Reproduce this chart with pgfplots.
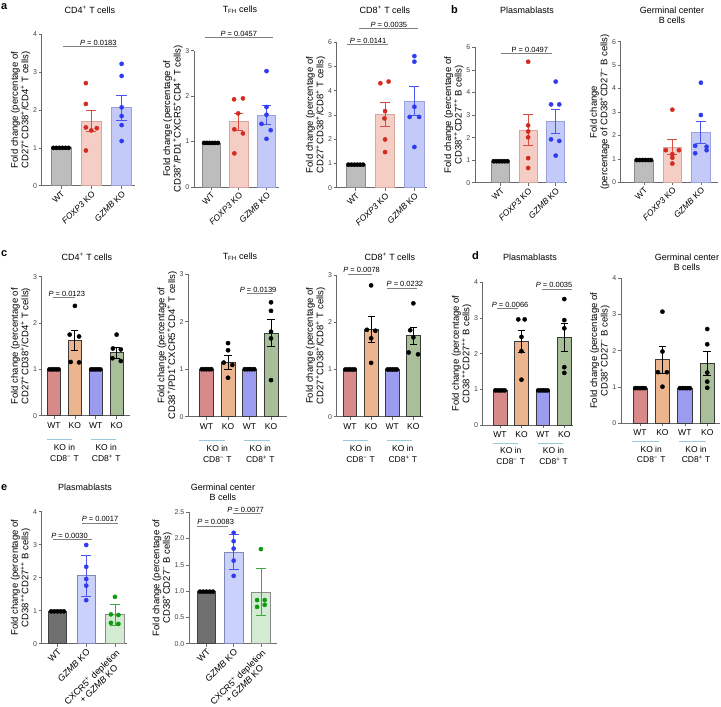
\documentclass[border=0pt]{standalone}
\usepackage{pgfplots}
\pgfplotsset{compat=1.18}
\usepackage{fontspec}
\setmainfont{Liberation Sans}
\definecolor{axc}{HTML}{6A6A6A}
\definecolor{tkc}{HTML}{444444}
\definecolor{brc}{HTML}{808080}
\definecolor{grpc}{HTML}{9CC8DC}
\definecolor{wtf}{HTML}{BDBDBD}
\definecolor{wtd}{HTML}{8A8A8A}
\definecolor{fxf}{HTML}{F4CDC5}
\definecolor{fxd}{HTML}{D8A69C}
\definecolor{gzf}{HTML}{C4CAF7}
\definecolor{gzd}{HTML}{9AA1DE}
\definecolor{rdc}{HTML}{D42A20}
\definecolor{blc}{HTML}{2F3BF0}
\definecolor{erd}{HTML}{DD4A40}
\definecolor{ebl}{HTML}{4A55F0}
\definecolor{cred}{HTML}{D88A8A}
\definecolor{cora}{HTML}{EDB58E}
\definecolor{cblu}{HTML}{9B9BF0}
\definecolor{cgrn}{HTML}{A9BF99}
\definecolor{cout}{HTML}{3A3A3A}
\definecolor{ewtf}{HTML}{707070}
\definecolor{ewtd}{HTML}{404040}
\definecolor{egzf}{HTML}{CAD1FA}
\definecolor{egzd}{HTML}{8088B8}
\definecolor{ecxf}{HTML}{D3EBD3}
\definecolor{ecxd}{HTML}{8A8A8A}
\definecolor{egrn}{HTML}{0E9A0E}
\definecolor{eegr}{HTML}{3AAA3A}
\newcommand{\sps}{\textsuperscript{+}}
\newcommand{\smn}{\textsuperscript{−}}
\newcommand{\pbar}[5]{\addplot[forget plot, ybar, bar shift=0pt, bar width=#5, fill=#3, draw=#4, line width=0.7pt] coordinates {(#1,#2)};}
% error bar: x, mean, err, colour, cap half-width (axis units)
\newcommand{\perr}[5]{%
 \pgfmathsetmacro{\ea}{#2-#3}\pgfmathsetmacro{\eb}{#2+#3}\pgfmathsetmacro{\xa}{#1-#5}\pgfmathsetmacro{\xb}{#1+#5}%
 \edef\tmp{\noexpand\addplot[forget plot, draw=#4, line width=0.8pt] coordinates {(#1,\ea)(#1,\eb)};%
 \noexpand\addplot[forget plot, draw=#4, line width=0.8pt] coordinates {(\xa,\eb)(\xb,\eb)};%
 \noexpand\addplot[forget plot, draw=#4, line width=0.8pt] coordinates {(\xa,\ea)(\xb,\ea)};}\tmp}
\newcommand{\pdots}[2]{\addplot[forget plot, only marks, mark=*, mark size=2.1pt, color=#1, mark options={draw=#1, fill=#1}] coordinates {#2};}
\newcommand{\pbr}[5]{\draw[brc, line width=0.6pt] (axis cs:#1,#3) -- (axis cs:#2,#3); \node[font=\fontsize{7.5}{8}\selectfont, anchor=south, inner sep=1pt] at (axis cs:#5,#3) {\textit{P} = #4};}
\newcommand{\grp}[6]{\draw[grpc, line width=0.8pt] ([yshift=-#4pt]axis cs:#1,0) -- ([yshift=-#4pt]axis cs:#2,0); \node[font=\fontsize{8.5}{10.5}\selectfont, align=center, anchor=north, inner sep=0pt] at ([yshift=-#5pt]axis cs:#3,0) {#6};}
\pgfplotsset{
  panel/.style={
    scale only axis, anchor=south west, clip=false,
    axis x line*=bottom, axis y line*=left,
    axis line style={draw=axc, line width=0.6pt},
    every tick/.style={draw=axc, line width=0.6pt},
    tick align=outside, major tick length=3pt,
    ymin=0,
    /pgf/number format/assume math mode=true,
    yticklabel style={font=\fontsize{7}{7}\selectfont, text=tkc, inner sep=1.5pt},
    xticklabel style={font=\fontsize{8.5}{9}\selectfont, text=black},
    ylabel style={font=\fontsize{9.5}{8.8}\selectfont, align=center, inner sep=1pt},
  },
  rot/.style={xtick={0,1,2}, xticklabel style={font=\fontsize{8.5}{8.5}\selectfont, rotate=45, anchor=north east, inner sep=1pt, align=center}},
  four/.style={xtick={0,1,2,3}, xticklabels={WT,KO,WT,KO}},
}
\newcommand{\ttl}[3]{\node[font=\fontsize{9}{10}\selectfont, align=center] at (#1pt,#2pt) {#3};}
\newcommand{\plet}[3]{\node[font=\bfseries\fontsize{11}{12}\selectfont, anchor=north west, inner sep=0pt] at (#1pt,#2pt) {#3};}
\begin{document}
\begin{tikzpicture}[x=1pt,y=1pt]
\path[use as bounding box] (0,0) rectangle (721,707);
% letters
\plet{1}{704}{a}
\plet{451}{702}{b}
\plet{1}{457}{c}
\plet{472}{456}{d}
\plet{1}{223}{e}
% titles
\ttl{90}{697}{CD4\sps{} T cells}
\ttl{240}{697}{T\textsubscript{FH} cells}
\ttl{385}{697}{CD8\sps{} T cells}
\ttl{527}{697}{Plasmablasts}
\ttl{672}{691.5}{Germinal center\\B cells}
\ttl{87}{450.3}{CD4\sps{} T cells}
\ttl{240}{450}{T\textsubscript{FH} cells}
\ttl{390}{450}{CD8\sps{} T cells}
\ttl{530}{450}{Plasmablasts}
\ttl{687}{445}{Germinal center\\B cells}
\ttl{85}{220}{Plasmablasts}
\ttl{223}{215}{Germinal center\\B cells}

% ---------- a1
\begin{axis}[panel, rot, at={(41.7pt,521.3pt)}, width=93.3pt, height=151.4pt, xmin=-0.636, xmax=2.44, ymax=4, ytick={0,1,2,3,4},
 xticklabels={WT,\textit{FOXP3} KO,\textit{GZMB} KO},
 ylabel={Fold change (percentage of\\CD27\sps CD38\sps/CD4\sps{} T cells)}]
\pbar{0}{1}{wtf}{wtd}{0.66}
\pbar{1}{1.71}{fxf}{fxd}{0.66}
\pbar{2}{2.06}{gzf}{gzd}{0.66}
\perr{1}{1.71}{0.27}{erd}{0.17}
\perr{2}{2.06}{0.33}{ebl}{0.17}
\pdots{black}{(-0.25,1)(-0.15,1)(-0.05,1)(0.05,1)(0.15,1)(0.25,1)}
\pdots{rdc}{(0.82,2.71)(0.82,2.16)(0.82,1.54)(1.18,1.52)(1.0,1.46)(0.82,0.93)}
\pdots{blc}{(2,3.22)(2,2.90)(2,2.07)(2,1.84)(2,1.60)(2,1.18)}
\pbr{0.05}{1.85}{3.67}{0.0183}{1.23}
\end{axis}
% ---------- a2
\begin{axis}[panel, rot, at={(194pt,520pt)}, width=85pt, height=136.3pt, xmin=-0.613, xmax=2.45, ymax=3, ytick={0,1,2,3},
 xticklabels={WT,\textit{FOXP3} KO,\textit{GZMB} KO},
 ylabel={Fold change (percentage of\\CD38\sps/PD1\sps CXCR5\sps CD4\sps{} T cells)}]
\pbar{0}{0.97}{wtf}{wtd}{0.66}
\pbar{1}{1.44}{fxf}{fxd}{0.66}
\pbar{2}{1.58}{gzf}{gzd}{0.66}
\perr{1}{1.44}{0.19}{erd}{0.17}
\perr{2}{1.58}{0.21}{ebl}{0.17}
\pdots{black}{(-0.25,0.97)(-0.15,0.97)(-0.05,0.97)(0.05,0.97)(0.15,0.97)(0.25,0.97)}
\pdots{rdc}{(0.83,1.93)(1.15,1.95)(0.98,1.62)(0.84,1.27)(1.15,1.18)(0.84,0.74)}
\pdots{blc}{(2,2.55)(2,1.76)(2,1.59)(1.82,1.39)(2.15,1.25)(2,1.06)}
\pbr{-0.22}{2.23}{3.29}{0.0457}{1.0}
\end{axis}
% ---------- a3
\begin{axis}[panel, rot, at={(336.7pt,519.3pt)}, width=90pt, height=145.4pt, xmin=-0.65, xmax=2.42, ymax=6, ytick={0,1,2,3,4,5,6},
 xticklabels={WT,\textit{FOXP3} KO,\textit{GZMB} KO},
 ylabel={Fold change (percentage of\\CD27\sps CD38\sps/CD8\sps{} T cells)}]
\pbar{0}{0.95}{wtf}{wtd}{0.66}
\pbar{1}{3.02}{fxf}{fxd}{0.66}
\pbar{2}{3.58}{gzf}{gzd}{0.66}
\perr{1}{3.02}{0.48}{erd}{0.17}
\perr{2}{3.58}{0.61}{ebl}{0.17}
\pdots{black}{(-0.25,0.95)(-0.15,0.95)(-0.05,0.95)(0.05,0.95)(0.15,0.95)(0.25,0.95)}
\pdots{rdc}{(0.84,4.31)(1.12,4.38)(1.0,3.16)(0.98,2.86)(1.0,1.99)(1.0,1.47)}
\pdots{blc}{(2,5.43)(2,5.20)(2,3.34)(1.84,2.92)(2.16,2.92)(2,1.68)}
\pbr{-0.3}{1.1}{5.91}{0.0141}{0.42}
\pbr{0.11}{2.12}{6.56}{0.0035}{1.13}
\end{axis}
% ---------- b1
\begin{axis}[panel, rot, at={(475pt,524.3pt)}, width=92pt, height=135.4pt, xmin=-0.93, xmax=2.41, ymax=6, ytick={0,1,2,3,4,5,6},
 xticklabels={WT,\textit{FOXP3} KO,\textit{GZMB} KO},
 ylabel={Fold change (percentage of\\CD38\textsuperscript{++}CD27\textsuperscript{++} B cells)}]
\pbar{0}{0.95}{wtf}{wtd}{0.66}
\pbar{1}{2.33}{fxf}{fxd}{0.66}
\pbar{2}{2.72}{gzf}{gzd}{0.66}
\perr{1}{2.33}{0.68}{erd}{0.17}
\perr{2}{2.72}{0.53}{ebl}{0.17}
\pdots{black}{(-0.25,0.95)(-0.15,0.95)(-0.05,0.95)(0.05,0.95)(0.15,0.95)(0.25,0.95)}
\pdots{rdc}{(1,5.36)(1,2.54)(1,2.27)(1,2.01)(1,1.09)(1,0.65)}
\pdots{blc}{(2,4.48)(1.83,3.47)(2.13,3.47)(1.83,1.92)(2.13,1.85)(2,1.20)}
\node[font=\fontsize{7.5}{8}\selectfont, anchor=south, inner sep=1pt] at (axis cs:1.06,5.73) {P = 0.0497};
\draw[brc, line width=0.6pt] (axis cs:0.03,5.73) -- (axis cs:1.85,5.73);
\end{axis}
% ---------- b2
\begin{axis}[panel, rot, at={(620.7pt,524.7pt)}, width=97.3pt, height=140.6pt, xmin=-0.81, xmax=2.6, ymax=6, ytick={0,1,2,3,4,5,6},
 xticklabels={WT,\textit{FOXP3} KO,\textit{GZMB} KO},
 ylabel={Fold change\\(percentage of CD38\sps CD27\smn{} B cells)}]
\pbar{0}{0.95}{wtf}{wtd}{0.66}
\pbar{1}{1.50}{fxf}{fxd}{0.66}
\pbar{2}{2.13}{gzf}{gzd}{0.66}
\perr{1}{1.50}{0.33}{erd}{0.17}
\perr{2}{2.13}{0.48}{ebl}{0.17}
\pdots{black}{(-0.25,0.95)(-0.15,0.95)(-0.05,0.95)(0.05,0.95)(0.15,0.95)(0.25,0.95)}
\pdots{rdc}{(1,3.10)(0.77,1.37)(1.23,1.37)(1.0,1.20)(1.0,1.05)(1,0.80)}
\pdots{blc}{(2,4.25)(2,2.87)(1.8,1.56)(2.2,1.52)(2.2,1.37)(1.8,1.24)}
\end{axis}

% ---------- c1
\begin{axis}[panel, four, at={(41.7pt,291.3pt)}, width=88.3pt, height=139pt, xmin=-0.59, xmax=3.64, ymax=3, ytick={0,1,2,3},
 ylabel={Fold change (percentage of\\CD27\sps CD38\sps/CD4\sps{} T cells)}]
\pbar{0}{1}{cred}{cout}{0.64}
\pbar{1}{1.62}{cora}{cout}{0.64}
\pbar{2}{1}{cblu}{cout}{0.64}
\pbar{3}{1.36}{cgrn}{cout}{0.64}
\perr{1}{1.62}{0.22}{black}{0.17}
\perr{3}{1.36}{0.12}{black}{0.17}
\pdots{black}{(-0.22,1)(-0.11,1)(0,1)(0.11,1)(0.22,1)}
\pdots{black}{(1.78,1)(1.89,1)(2,1)(2.11,1)(2.22,1)}
\pdots{black}{(1,2.37)(0.75,1.75)(1.2,1.71)(0.8,1.16)(1.2,1.15)}
\pdots{black}{(3,1.75)(2.82,1.45)(3.2,1.43)(2.8,1.24)(3.2,1.18)}
\pbr{-0.05}{1.0}{2.55}{0.0123}{0.61}
\grp{-0.35}{0.85}{0.5}{23.5}{28.5}{KO in\\CD8\smn{} T}
\grp{1.75}{2.95}{2.5}{23.5}{28.5}{KO in\\CD8\sps{} T}
\end{axis}
% ---------- c2
\begin{axis}[panel, four, at={(188.3pt,290.3pt)}, width=98.4pt, height=142.4pt, xmin=-0.85, xmax=3.73, ymax=3, ytick={0,1,2,3},
 ylabel={Fold change (percentage of\\CD38\sps/PD1\sps CXCR5\sps CD4\sps{} T cells)}]
\pbar{0}{1}{cred}{cout}{0.64}
\pbar{1}{1.14}{cora}{cout}{0.64}
\pbar{2}{1}{cblu}{cout}{0.64}
\pbar{3}{1.76}{cgrn}{cout}{0.64}
\perr{1}{1.14}{0.15}{black}{0.17}
\perr{3}{1.76}{0.28}{black}{0.17}
\pdots{black}{(-0.22,1)(-0.11,1)(0,1)(0.11,1)(0.22,1)}
\pdots{black}{(1.78,1)(1.89,1)(2,1)(2.11,1)(2.22,1)}
\pdots{black}{(1,1.55)(1,1.40)(0.8,1.14)(1.2,1.09)(1,0.82)}
\pdots{black}{(3,2.41)(3,2.23)(3,1.79)(3,1.65)(3,0.77)}
\pbr{1.88}{3.09}{2.60}{0.0139}{2.4}
\grp{-0.35}{0.85}{0.5}{23.5}{28.5}{KO in\\CD8\smn{} T}
\grp{1.75}{2.95}{2.5}{23.5}{28.5}{KO in\\CD8\sps{} T}
\end{axis}
% ---------- c3
\begin{axis}[panel, four, at={(336.7pt,290.3pt)}, width=86.6pt, height=141.7pt, xmin=-0.63, xmax=3.47, ymax=3, ytick={0,1,2,3},
 ylabel={Fold change (percentage of\\CD27\sps CD38\sps/CD8\sps{} T cells)}]
\pbar{0}{1}{cred}{cout}{0.64}
\pbar{1}{1.85}{cora}{cout}{0.64}
\pbar{2}{1}{cblu}{cout}{0.64}
\pbar{3}{1.72}{cgrn}{cout}{0.64}
\perr{1}{1.85}{0.27}{black}{0.17}
\perr{3}{1.72}{0.18}{black}{0.17}
\pdots{black}{(-0.22,1)(-0.11,1)(0,1)(0.11,1)(0.22,1)}
\pdots{black}{(1.78,1)(1.89,1)(2,1)(2.11,1)(2.22,1)}
\pdots{black}{(1,2.78)(0.8,1.84)(1.2,1.82)(1,1.66)(1,1.14)}
\pdots{black}{(3,2.40)(2.85,1.83)(3,1.68)(2.78,1.36)(3.22,1.32)}
\pbr{-0.1}{1.04}{3.02}{0.0078}{0.55}
\pbr{1.73}{3.16}{2.72}{0.0232}{2.6}
\grp{-0.35}{0.85}{0.5}{23.5}{28.5}{KO in\\CD8\smn{} T}
\grp{1.75}{2.95}{2.5}{23.5}{28.5}{KO in\\CD8\sps{} T}
\end{axis}
% ---------- d1
\begin{axis}[panel, four, at={(482.7pt,282pt)}, width=90.6pt, height=142.7pt, xmin=-0.81, xmax=3.42, ymax=4, ytick={0,1,2,3,4},
 ylabel={Fold change (percentage of\\CD38\textsuperscript{++}CD27\textsuperscript{++} B cells)}]
\pbar{0}{0.97}{cred}{cout}{0.64}
\pbar{1}{2.34}{cora}{cout}{0.64}
\pbar{2}{0.97}{cblu}{cout}{0.64}
\pbar{3}{2.46}{cgrn}{cout}{0.64}
\perr{1}{2.34}{0.30}{black}{0.17}
\perr{3}{2.46}{0.40}{black}{0.17}
\pdots{black}{(-0.22,0.97)(-0.11,0.97)(0,0.97)(0.11,0.97)(0.22,0.97)}
\pdots{black}{(1.78,0.97)(1.89,0.97)(2,0.97)(2.11,0.97)(2.22,0.97)}
\pdots{black}{(0.85,2.96)(1.15,2.96)(1,2.47)(1,2.07)(1,1.27)}
\pdots{black}{(3,3.53)(3,2.94)(3,2.71)(3,1.62)(3,1.46)}
\pbr{-0.15}{0.86}{3.27}{0.0066}{0.47}
\pbr{1.95}{3.35}{3.81}{0.0035}{2.52}
\grp{-0.35}{0.85}{0.5}{18.5}{22.5}{KO in\\CD8\smn{} T}
\grp{1.75}{2.95}{2.5}{18.5}{22.5}{KO in\\CD8\sps{} T}
\end{axis}
% ---------- d2
\begin{axis}[panel, four, at={(621pt,283.7pt)}, width=99pt, height=145pt, xmin=-0.85, xmax=3.57, ymax=4, ytick={0,1,2,3,4},
 ylabel={Fold change (percentage of\\CD38\sps CD27\smn{} B cells)}]
\pbar{0}{0.97}{cred}{cout}{0.64}
\pbar{1}{1.76}{cora}{cout}{0.64}
\pbar{2}{0.97}{cblu}{cout}{0.64}
\pbar{3}{1.65}{cgrn}{cout}{0.64}
\perr{1}{1.76}{0.37}{black}{0.17}
\perr{3}{1.65}{0.33}{black}{0.17}
\pdots{black}{(-0.22,0.97)(-0.11,0.97)(0,0.97)(0.11,0.97)(0.22,0.97)}
\pdots{black}{(1.78,0.97)(1.89,0.97)(2,0.97)(2.11,0.97)(2.22,0.97)}
\pdots{black}{(1,3.08)(1,1.98)(0.8,1.41)(1.2,1.41)(1,1.01)}
\pdots{black}{(3,2.60)(3,2.18)(3,1.40)(3,1.15)(3,0.98)}
\grp{-0.35}{0.85}{0.5}{18.5}{22.5}{KO in\\CD8\smn{} T}
\grp{1.75}{2.95}{2.5}{18.5}{22.5}{KO in\\CD8\sps{} T}
\end{axis}

% ---------- e1
\begin{axis}[panel, rot, at={(41.7pt,63.3pt)}, width=85.6pt, height=132pt, xmin=-0.55, xmax=2.43, ymax=4, ytick={0,1,2,3,4},
 xticklabel style={font=\fontsize{9}{9.5}\selectfont},
 xticklabels={WT,\textit{GZMB} KO,CXCR5\sps{} depletion\\+ \textit{GZMB} KO},
 ylabel={Fold change (percentage of\\CD38\textsuperscript{++}CD27\textsuperscript{++} B cells)}]
\pbar{0}{0.98}{ewtf}{ewtd}{0.64}
\pbar{1}{2.06}{egzf}{egzd}{0.64}
\pbar{2}{0.88}{ecxf}{ecxd}{0.64}
\perr{1}{2.06}{0.63}{ebl}{0.18}
\perr{2}{0.88}{0.32}{eegr}{0.18}
\pdots{black}{(-0.22,0.98)(-0.11,0.98)(0,0.98)(0.11,0.98)(0.22,0.98)}
\pdots{blc}{(1,2.99)(1,2.33)(1,1.96)(1,1.76)(1,1.32)}
\pdots{egrn}{(2,1.42)(1.86,0.89)(2.12,0.87)(1.86,0.63)(2.12,0.60)}
\pbr{-0.16}{1.2}{3.16}{0.0030}{0.42}
\pbr{0.85}{2.1}{3.65}{0.0017}{1.48}
\end{axis}
% ---------- e2
\begin{axis}[panel, rot, at={(189pt,63.3pt)}, width=87.7pt, height=131.4pt, xmin=-0.64, xmax=2.58, ymax=2.5, ytick={0,0.5,1,1.5,2,2.5},
 yticklabel style={/pgf/number format/.cd, fixed, fixed zerofill, precision=1},
 xticklabel style={font=\fontsize{9}{9.5}\selectfont},
 xticklabels={WT,\textit{GZMB} KO,CXCR5\sps{} depletion\\+ \textit{GZMB} KO},
 ylabel={Fold change (percentage of\\CD38\sps CD27\smn{} B cells)}]
\pbar{0}{0.99}{ewtf}{ewtd}{0.68}
\pbar{1}{1.74}{egzf}{egzd}{0.68}
\pbar{2}{0.98}{ecxf}{ecxd}{0.68}
\perr{1}{1.74}{0.33}{ebl}{0.18}
\perr{2}{0.98}{0.45}{eegr}{0.18}
\pdots{black}{(-0.24,0.99)(-0.12,0.99)(0,0.99)(0.12,0.99)(0.24,0.99)}
\pdots{blc}{(1,2.11)(1,1.95)(1,1.81)(1,1.58)(1,1.29)}
\pdots{egrn}{(2,1.80)(1.86,0.83)(2.14,0.83)(2.14,0.74)(1.86,0.70)}
\pbr{-0.36}{0.8}{2.24}{0.0083}{0.34}
\pbr{0.99}{1.99}{2.48}{0.0077}{1.44}
\end{axis}
\end{tikzpicture}
\end{document}
